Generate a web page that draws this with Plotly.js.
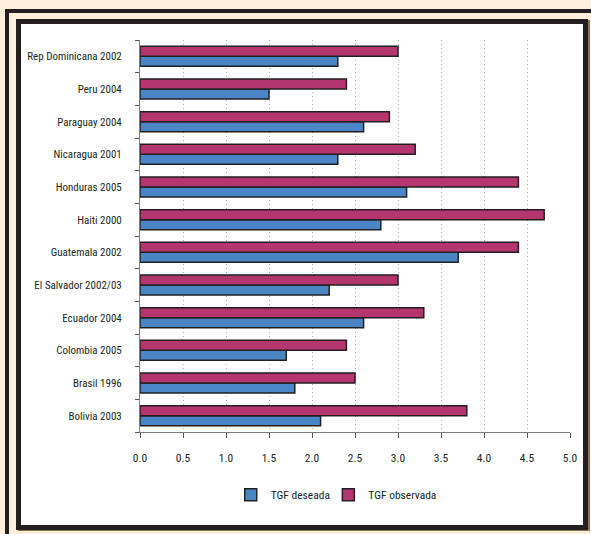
<!DOCTYPE html>
<html>
<head>
<meta charset="utf-8">
<script src="https://cdn.plot.ly/plotly-3.0.1.min.js"></script>
<style>
  html, body { margin: 0; padding: 0; width: 591px; height: 534px; overflow: hidden; background: #FEF0DB; }
  #outer { position: absolute; left: 5px; top: 9px; width: 600px; height: 600px;
           border-left: 4px solid #231F20; border-top: 4px solid #231F20; }
  #inner { position: absolute; left: 16px; top: 19px; width: 562px; height: 501px;
           border: 5px solid #231F20; background: #fff; box-shadow: 2px 1px 0 #8c7358; }
  #chart { position: absolute; left: 0; top: 0; width: 562px; height: 501px; }
</style>
</head>
<body>
<div id="outer"></div>
<div id="inner"><div id="chart"></div></div>
<script>
// Data (bottom to top as drawn)
var categories = ["Bolivia 2003", "Brasil 1996", "Colombia 2005", "Ecuador 2004", "El Salvador 2002/03",
  "Guatemala 2002", "Haiti 2000", "Honduras 2005", "Nicaragua 2001", "Paraguay 2004", "Peru 2004",
  "Rep Dominicana 2002"];
var tgfDeseada   = [2.1, 1.8, 1.7, 2.6, 2.2, 3.7, 2.8, 3.1, 2.3, 2.6, 1.5, 2.3];
var tgfObservada = [3.8, 2.5, 2.4, 3.3, 3.0, 4.4, 4.7, 4.4, 3.2, 2.9, 2.4, 3.0];
var xTickVals = [0, 0.5, 1, 1.5, 2, 2.5, 3, 3.5, 4, 4.5, 5];
var xTickText = ["0.0", "0.5", "1.0", "1.5", "2.0", "2.5", "3.0", "3.5", "4.0", "4.5", "5.0"];
var seriesNames = ["TGF deseada", "TGF observada"];

var FONT = "Liberation Sans Narrow, Arial Narrow, Roboto Condensed, Liberation Sans, sans-serif";

var traces = [
  { type: "bar", orientation: "h", name: seriesNames[0], y: categories, x: tgfDeseada,
    legend: "legend",
    marker: { color: "#4A86C6", line: { color: "#231F20", width: 1.5 } } },
  { type: "bar", orientation: "h", name: seriesNames[1], y: categories, x: tgfObservada,
    legend: "legend2",
    marker: { color: "#B5366F", line: { color: "#231F20", width: 1.5 } } }
];

var legendFont = { family: FONT, size: 11.5, color: "#231F20" };

var layout = {
  width: 562, height: 501,
  margin: { l: 119, r: 13, t: 16, b: 93 },
  paper_bgcolor: "#fff", plot_bgcolor: "#fff",
  font: { family: FONT, size: 11, color: "#231F20" },
  barmode: "group", bargap: 0.39, bargroupgap: 0,
  showlegend: true,
  legend: { orientation: "h", x: 0.211, xanchor: "left", y: -0.16, yanchor: "middle",
            itemwidth: 30, font: legendFont, bgcolor: "rgba(0,0,0,0)" },
  legend2: { orientation: "h", x: 0.438, xanchor: "left", y: -0.16, yanchor: "middle",
             itemwidth: 30, font: legendFont, bgcolor: "rgba(0,0,0,0)" },
  xaxis: {
    range: [0, 5], tickvals: xTickVals, ticktext: xTickText,
    showgrid: true, gridcolor: "#a8a8a8", griddash: "1px,3px", gridwidth: 1,
    showline: true, linecolor: "#808080", linewidth: 1,
    ticks: "outside", ticklen: 5, tickcolor: "#555", tickwidth: 1,
    ticklabelstandoff: 10, zeroline: false, fixedrange: true,
    tickfont: { family: FONT, size: 11.5 }
  },
  yaxis: {
    type: "category", categoryorder: "array", categoryarray: categories,
    showgrid: false, showline: true, linecolor: "#808080", linewidth: 1,
    ticks: "outside", tickson: "boundaries", ticklen: 4, tickcolor: "#555",
    ticklabelstandoff: 15, fixedrange: true,
    tickfont: { family: FONT, size: 11 }
  }
};

Plotly.newPlot("chart", traces, layout, { staticPlot: true, displayModeBar: false });
</script>
</body>
</html>
